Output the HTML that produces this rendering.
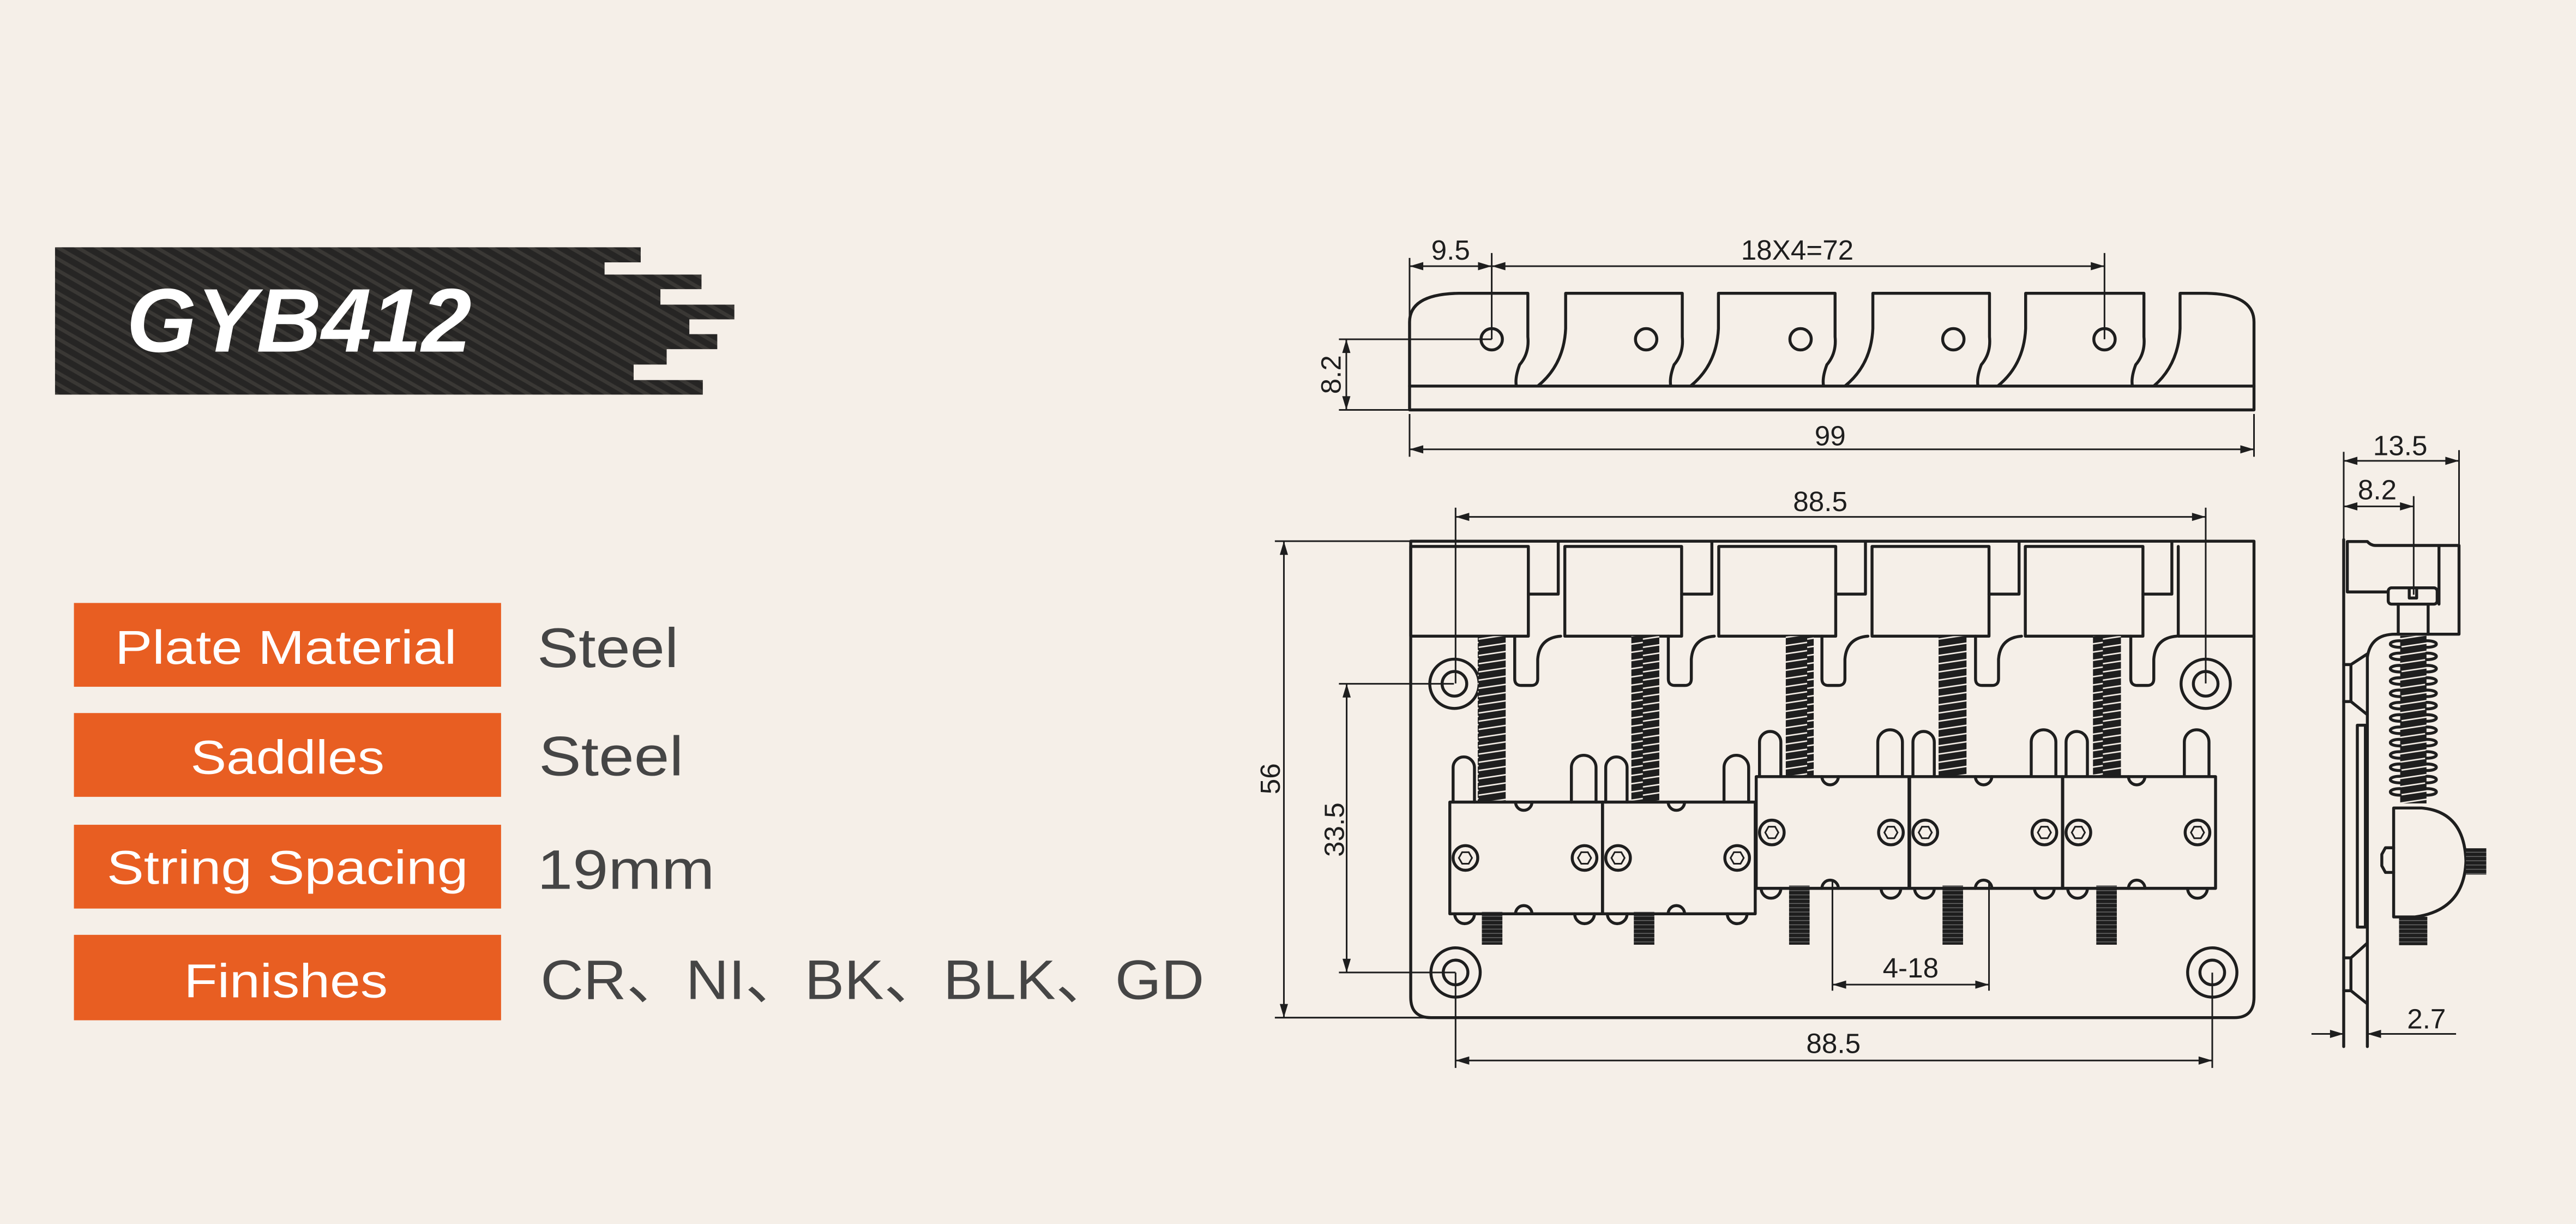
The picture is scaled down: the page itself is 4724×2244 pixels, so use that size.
<!DOCTYPE html>
<html><head><meta charset="utf-8"><style>
html,body{margin:0;padding:0;background:#f5efe8;}
svg{display:block;}
.l{fill:none;stroke:#1e1e1e;stroke-width:1.8;stroke-linejoin:round;stroke-linecap:round}
.d{fill:none;stroke:#1e1e1e;stroke-width:1}
.t{font-family:"Liberation Sans Narrow","Liberation Sans",sans-serif;font-size:17px;fill:#1e1e1e}
.lab{font-family:"Liberation Sans",sans-serif;font-size:29px;fill:#fff;text-anchor:middle}
.val{font-family:"Liberation Sans","Noto Sans CJK SC",sans-serif;font-size:34px;fill:#454545}
</style></head><body>
<svg width="4724" height="2244" viewBox="0 0 1568 745" preserveAspectRatio="none" xmlns="http://www.w3.org/2000/svg">
<defs>
<marker id="a" viewBox="0 0 10 6" refX="10" refY="3" markerWidth="9" markerHeight="5" markerUnits="userSpaceOnUse" orient="auto-start-reverse"><path d="M0,0 L10,3 L0,6Z" fill="#1e1e1e"/></marker>
<pattern id="cf" width="6" height="6" patternUnits="userSpaceOnUse" patternTransform="rotate(-60)"><rect width="6" height="6" fill="#262524"/><rect width="2.2" height="6" fill="#3a3835"/></pattern>
<pattern id="thr" width="20" height="5" patternUnits="userSpaceOnUse"><rect width="20" height="5" fill="#1e1e1e"/><line x1="0" y1="4" x2="20" y2="1" stroke="#f5efe8" stroke-width="0.9"/></pattern>
<pattern id="thr2" width="14" height="2.6" patternUnits="userSpaceOnUse"><rect width="14" height="2.6" fill="#1e1e1e"/><line x1="0" y1="1.3" x2="14" y2="1.3" stroke="#777" stroke-width="0.4"/></pattern>
<g id="sad">
<path class="l" d="M2,0 V-21 A6.5,6.5 0 0 1 15,-21 V0 M74,0 V-21 A7.5,7.5 0 0 1 89,-21 V0"/>
<rect class="l" x="0" y="0" width="93" height="68" fill="#f5efe8"/>
<path class="l" d="M40,0 A5,5 0 0 0 50,0 M40,68 A5,5 0 0 1 50,68" fill="#f5efe8"/>
<path class="l" d="M3,68 A6,6 0 0 0 15,68 M76,68 A6,6 0 0 0 88,68"/>
<ellipse class="l" cx="9.5" cy="34" rx="7.5" ry="7.5"/><polygon class="d" points="13.5,34 11.5,37.5 7.5,37.5 5.5,34 7.5,30.5 11.5,30.5"/>
<ellipse class="l" cx="82" cy="34" rx="7.5" ry="7.5"/><polygon class="d" points="86,34 84,37.5 80,37.5 78,34 80,30.5 84,30.5"/>
</g>
<g id="fin"><path class="l" d="M0,0 V26 Q0,30 4,30 H10 Q14,30 14,26 V14 Q15,1 28,0"/></g>
</defs>
<rect width="1568" height="745" fill="#f5efe8"/>

<polygon fill="url(#cf)" points="33.5,150.5 390,150.5 390,159.7 368,159.7 368,167.1 427,167.1 427,176 402,176 402,185.4 447,185.4 447,194.4 419.6,194.4 419.6,203.4 436.6,203.4 436.6,212.5 405.8,212.5 405.8,221.9 385.7,221.9 385.7,231.3 427.8,231.3 427.8,240.2 33.5,240.2"/>
<text x="77" y="214" font-family="Liberation Sans,sans-serif" font-weight="bold" font-style="italic" font-size="55" fill="#fff" textLength="210" lengthAdjust="spacingAndGlyphs">GYB412</text>

<rect x="45" y="367" width="260" height="51" fill="#e85e22"/>
<rect x="45" y="434" width="260" height="51" fill="#e85e22"/>
<rect x="45" y="502" width="260" height="51" fill="#e85e22"/>
<rect x="45" y="569" width="260" height="52" fill="#e85e22"/>
<text class="lab" x="174" y="404" textLength="208" lengthAdjust="spacingAndGlyphs">Plate Material</text>
<text class="lab" x="175" y="471" textLength="118" lengthAdjust="spacingAndGlyphs">Saddles</text>
<text class="lab" x="175" y="538" textLength="220" lengthAdjust="spacingAndGlyphs">String Spacing</text>
<text class="lab" x="174" y="607" textLength="124" lengthAdjust="spacingAndGlyphs">Finishes</text>
<text class="val" x="327" y="406" textLength="86" lengthAdjust="spacingAndGlyphs">Steel</text>
<text class="val" x="328" y="472" textLength="88" lengthAdjust="spacingAndGlyphs">Steel</text>
<text class="val" x="327" y="541" textLength="108" lengthAdjust="spacingAndGlyphs">19mm</text>
<text class="val" x="329" y="608" textLength="404" lengthAdjust="spacingAndGlyphs">CR、NI、BK、BLK、GD</text>

<path class="l" d="M858,235 V196 Q858,179 888,178.5 H930 V205 Q931,215 925,222 Q922,230 923,235 M953,178.5 V200 Q952,222 936,235 M953,178.5 H1024 V205 Q1025,215 1019,222 Q1016,230 1017,235 M1046,178.5 V200 Q1045,222 1029,235 M1046,178.5 H1117 V205 Q1118,215 1112,222 Q1109,230 1110,235 M1140,178.5 V200 Q1139,222 1123,235 M1140,178.5 H1211 V205 Q1212,215 1206,222 Q1203,230 1204,235 M1233,178.5 V200 Q1232,222 1216,235 M1233,178.5 H1305 V205 Q1306,215 1300,222 Q1297,230 1298,235 M1327,178.5 V200 Q1326,222 1311,235 M1327,178.5 H1343 Q1372,179 1372,196 V235"/>
<rect class="l" x="858" y="235" width="514" height="14.5"/>
<g class="l"><circle cx="908" cy="206.5" r="6.5"/><circle cx="1002" cy="206.5" r="6.5"/><circle cx="1096" cy="206.5" r="6.5"/><circle cx="1189" cy="206.5" r="6.5"/><circle cx="1281" cy="206.5" r="6.5"/></g>
<path class="d" d="M858,157 V235 M908,154 V206.5 M1281,154 V206.5 M815,206.5 H908 M815,249.5 H858 M858,252 V278 M1372,252 V278"/>
<line class="d" x1="858" y1="162" x2="908" y2="162" marker-start="url(#a)" marker-end="url(#a)"/>
<line class="d" x1="908" y1="162" x2="1281" y2="162" marker-start="url(#a)" marker-end="url(#a)"/>
<line class="d" x1="819.5" y1="206.5" x2="819.5" y2="249.5" marker-start="url(#a)" marker-end="url(#a)"/>
<line class="d" x1="858" y1="273.5" x2="1372" y2="273.5" marker-start="url(#a)" marker-end="url(#a)"/>
<text class="t" x="883" y="158" text-anchor="middle">9.5</text>
<text class="t" x="1094" y="158" text-anchor="middle">18X4=72</text>
<text class="t" x="1114" y="271" text-anchor="middle">99</text>
<text class="t" transform="translate(816,228) rotate(-90)" text-anchor="middle">8.2</text>

<path class="l" d="M858.7,329.4 H1372 V607 Q1372,619.4 1360,619.4 H871 Q858.7,619.4 858.7,607 Z"/>
<g class="l">
<rect x="858.7" y="332.6" width="71.6" height="54.6"/>
<rect x="952.5" y="332.6" width="71.1" height="54.6"/>
<rect x="1046.2" y="332.6" width="71.2" height="54.6"/>
<rect x="1139.5" y="332.6" width="71.2" height="54.6"/>
<rect x="1232.8" y="332.6" width="71.6" height="54.6"/>
<path d="M1325.9,332.6 V387.2 H1372"/>
<path d="M930.3,361.6 H948.5 V329.4 M1023.6,361.6 H1042 V329.4 M1117.4,361.6 H1135.5 V329.4 M1210.7,361.6 H1229 V329.4 M1304.4,361.6 H1322 V329.4"/>
</g>
<use href="#fin" x="922" y="387.2"/><use href="#fin" x="1015.5" y="387.2"/><use href="#fin" x="1109" y="387.2"/><use href="#fin" x="1202.5" y="387.2"/><use href="#fin" x="1297" y="387.2"/>
<g class="l"><circle cx="885.3" cy="416.2" r="15"/><circle cx="885.3" cy="416.2" r="7.5"/>
<circle cx="1342.6" cy="416.2" r="15"/><circle cx="1342.6" cy="416.2" r="7.5"/>
<circle cx="886" cy="591.9" r="15"/><circle cx="886" cy="591.9" r="7.5"/>
<circle cx="1346.6" cy="591.9" r="15"/><circle cx="1346.6" cy="591.9" r="7.5"/></g>
<rect x="899.5" y="387.2" width="17" height="101" fill="url(#thr)"/>
<rect x="993" y="387.2" width="17" height="101" fill="url(#thr)"/>
<rect x="1087" y="387.2" width="17" height="85.5" fill="url(#thr)"/>
<rect x="1180" y="387.2" width="17" height="85.5" fill="url(#thr)"/>
<rect x="1274" y="387.2" width="17" height="85.5" fill="url(#thr)"/>
<rect x="902" y="555" width="12.5" height="20" fill="url(#thr2)"/>
<rect x="994.5" y="555" width="12.5" height="20" fill="url(#thr2)"/>
<rect x="1089" y="539" width="12.5" height="36" fill="url(#thr2)"/>
<rect x="1182.4" y="539" width="12.5" height="36" fill="url(#thr2)"/>
<rect x="1276" y="539" width="12.5" height="36" fill="url(#thr2)"/>
<use href="#sad" x="882.5" y="488.2"/>
<use href="#sad" x="975.4" y="488.2"/>
<use href="#sad" x="1069" y="472.7"/>
<use href="#sad" x="1162.4" y="472.7"/>
<use href="#sad" x="1255.6" y="472.7"/>
<path class="d" d="M886,309 V416 M1342.6,309 V416 M776,329.4 H858.7 M776,619.4 H880 M815,416.2 H885 M815,591.9 H886 M1115.4,536 V603 M1210.7,536 V603 M886,592 V650 M1346.6,592 V650"/>
<line class="d" x1="886" y1="314.6" x2="1342.6" y2="314.6" marker-start="url(#a)" marker-end="url(#a)"/>
<line class="d" x1="781.5" y1="329.4" x2="781.5" y2="619.4" marker-start="url(#a)" marker-end="url(#a)"/>
<line class="d" x1="819.7" y1="416.2" x2="819.7" y2="591.9" marker-start="url(#a)" marker-end="url(#a)"/>
<line class="d" x1="1115.4" y1="599.3" x2="1210.7" y2="599.3" marker-start="url(#a)" marker-end="url(#a)"/>
<line class="d" x1="886" y1="645.5" x2="1346.6" y2="645.5" marker-start="url(#a)" marker-end="url(#a)"/>
<text class="t" x="1108" y="311" text-anchor="middle">88.5</text>
<text class="t" transform="translate(779,474) rotate(-90)" text-anchor="middle">56</text>
<text class="t" transform="translate(818,505) rotate(-90)" text-anchor="middle">33.5</text>
<text class="t" x="1163" y="595" text-anchor="middle">4-18</text>
<text class="t" x="1116" y="641" text-anchor="middle">88.5</text>

<path class="l" d="M1426.6,328.4 V637 M1441,400 V637"/>
<path class="l" d="M1428.8,329.6 H1441 Q1443,332 1446,332 H1496.8 V386 H1458 M1428.8,329.6 V360.3 H1453.7 M1484.6,332 V367.7"/>
<path class="l" d="M1458,386 Q1443,386 1441,400"/>
<rect class="l" x="1453.7" y="357.8" width="29.8" height="9.9" rx="2"/>
<path class="l" d="M1466.5,357.8 V364 H1471 V357.8"/>
<path class="l" d="M1459.8,367.7 V386 M1478,367.7 V386"/>
<rect x="1461" y="387" width="16" height="102" fill="url(#thr)"/>
<g class="l" stroke-width="1.2">
<path d="M1461,390 C1453,390 1453,394 1461,394 M1477,390 C1485,390 1485,394 1477,394"/>
<path d="M1461,397.5 C1453,397.5 1453,401.5 1461,401.5 M1477,397.5 C1485,397.5 1485,401.5 1477,401.5"/>
<path d="M1461,405 C1453,405 1453,409 1461,409 M1477,405 C1485,405 1485,409 1477,409"/>
<path d="M1461,412.5 C1453,412.5 1453,416.5 1461,416.5 M1477,412.5 C1485,412.5 1485,416.5 1477,416.5"/>
<path d="M1461,420 C1453,420 1453,424 1461,424 M1477,420 C1485,420 1485,424 1477,424"/>
<path d="M1461,427.5 C1453,427.5 1453,431.5 1461,431.5 M1477,427.5 C1485,427.5 1485,431.5 1477,431.5"/>
<path d="M1461,435 C1453,435 1453,439 1461,439 M1477,435 C1485,435 1485,439 1477,439"/>
<path d="M1461,442.5 C1453,442.5 1453,446.5 1461,446.5 M1477,442.5 C1485,442.5 1485,446.5 1477,446.5"/>
<path d="M1461,450 C1453,450 1453,454 1461,454 M1477,450 C1485,450 1485,454 1477,454"/>
<path d="M1461,457.5 C1453,457.5 1453,461.5 1461,461.5 M1477,457.5 C1485,457.5 1485,461.5 1477,461.5"/>
<path d="M1461,465 C1453,465 1453,469 1461,469 M1477,465 C1485,465 1485,469 1477,469"/>
<path d="M1461,472.5 C1453,472.5 1453,476.5 1461,476.5 M1477,472.5 C1485,472.5 1485,476.5 1477,476.5"/>
<path d="M1461,480 C1453,480 1453,484 1461,484 M1477,480 C1485,480 1485,484 1477,484"/>
</g>
<path class="l" d="M1457,491.8 H1474 Q1500,494 1501,524 Q1500,554 1470,558.1 H1457 Z"/>
<path class="l" d="M1457,516 H1452 L1449.8,520 V527 L1452,531 H1457"/>
<rect x="1501" y="516.3" width="12.4" height="16" fill="url(#thr2)"/>
<rect x="1460.3" y="558" width="17.2" height="17.3" fill="url(#thr2)"/>
<path class="l" d="M1426.6,404.5 H1431 L1441,398 M1431,404.5 V427 L1441,435 M1426.6,427 H1431"/>
<path class="l" d="M1426.6,583 H1431 L1441,574 M1431,583 V603 L1441,611 M1426.6,603 H1431"/>
<rect class="l" x="1434.9" y="441.4" width="4.9" height="122.9"/>
<path class="d" d="M1496.8,274 V386 M1469.2,302 V362 M1426.6,275 V328"/>
<line class="d" x1="1426.6" y1="280.5" x2="1496.8" y2="280.5" marker-start="url(#a)" marker-end="url(#a)"/>
<line class="d" x1="1426.6" y1="308.2" x2="1469.2" y2="308.2" marker-start="url(#a)" marker-end="url(#a)"/>
<line class="d" x1="1407" y1="629.3" x2="1426.6" y2="629.3" marker-end="url(#a)"/>
<line class="d" x1="1495" y1="629.3" x2="1441" y2="629.3" marker-end="url(#a)"/>
<text class="t" x="1461" y="277" text-anchor="middle">13.5</text>
<text class="t" x="1447" y="304" text-anchor="middle">8.2</text>
<text class="t" x="1477" y="626" text-anchor="middle">2.7</text>
</svg>
</body></html>
